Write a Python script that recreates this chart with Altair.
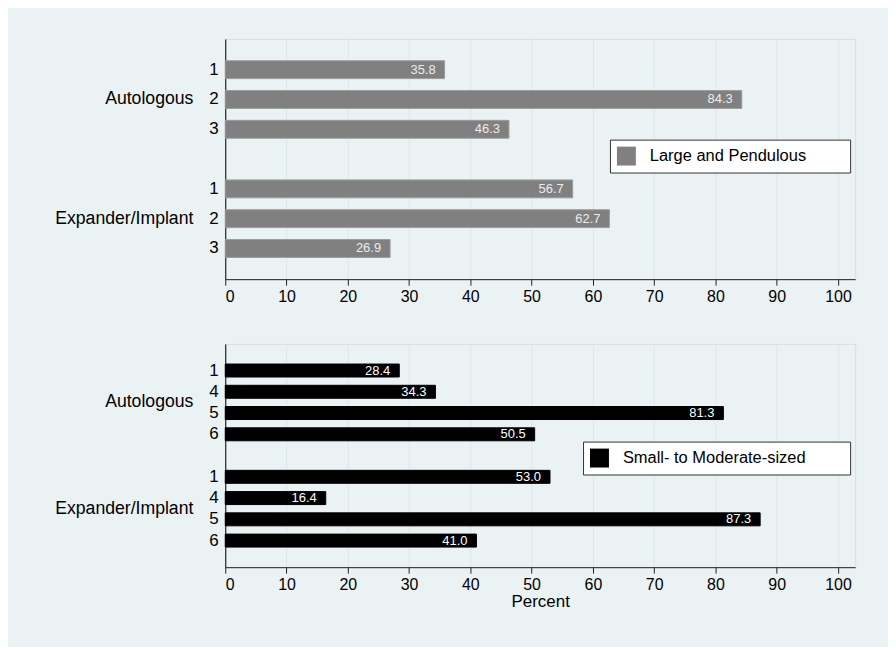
import altair as alt
import pandas as pd

# ---- data ----
top_groups = ["Autologous", "Autologous", "Autologous",
              "Expander/Implant", "Expander/Implant", "Expander/Implant"]
top_cats = ["1", "2", "3", "1", "2", "3"]
top_vals = [35.8, 84.3, 46.3, 56.7, 62.7, 26.9]
top_series = "Large and Pendulous"

bot_groups = ["Autologous"] * 4 + ["Expander/Implant"] * 4
bot_cats = ["1", "4", "5", "6", "1", "4", "5", "6"]
bot_vals = [28.4, 34.3, 81.3, 50.5, 53.0, 16.4, 87.3, 41.0]
bot_series = "Small- to Moderate-sized"

x_ticks = [0, 10, 20, 30, 40, 50, 60, 70, 80, 90, 100]

FONT = "Liberation Sans"
# trailing room inside the legend box (kept from trimming by a zero-width char)
LEGEND_PAD = "\u00a0" * 8 + "\u200b"


def build_df(groups, cats, vals, series):
    df = pd.DataFrame({"group": groups, "cat": cats, "value": vals})
    df["key"] = df["group"] + "|" + df["cat"]
    df["series"] = series
    return df


def key_domain(df):
    g = list(dict.fromkeys(df["group"]))
    dom = []
    for i, name in enumerate(g):
        if i > 0:
            dom.append("gap")
        dom += list(df.loc[df["group"] == name, "key"])
    return dom


def panel(df, height, fill, stroke, text_color, pad_inner, pad_outer,
          mid_cat, mid_dy, lx, ly, title):
    yscale = alt.Scale(domain=key_domain(df), paddingInner=pad_inner,
                       paddingOuter=pad_outer)
    y = alt.Y("key:N", scale=yscale, sort=None,
              axis=alt.Axis(title=None, ticks=False, grid=False, domain=True,
                            domainColor="#000000", domainWidth=1,
                            labelFontSize=17, labelColor="#000000",
                            labelPadding=7, labelFont=FONT,
                            labelExpr="indexof(datum.value,'|') >= 0 ? split(datum.value,'|')[1] : ''"))
    axis_kw = dict(values=x_ticks, grid=True, gridColor="#dde7ec",
                   gridWidth=1, domainColor="#222222", tickColor="#222222",
                   tickSize=6, labelFontSize=16, labelPadding=3,
                   labelColor="#000000", labelFont=FONT)
    if title:
        xaxis = alt.Axis(title=title, titleFontSize=17,
                         titleFontWeight="normal", titleColor="#000000",
                         titlePadding=1, titleFont=FONT, **axis_kw)
    else:
        xaxis = alt.Axis(title=None, **axis_kw)
    x = alt.X("value:Q", scale=alt.Scale(domain=[0, 102.8], nice=False),
              axis=xaxis)
    base = alt.Chart(df)
    bars = base.mark_bar(stroke=stroke, strokeWidth=1).encode(
        x=x, y=y,
        color=alt.Color("series:N",
                        scale=alt.Scale(domain=[df["series"].iloc[0]],
                                        range=[fill]),
                        legend=alt.Legend(
                            orient="none", legendX=lx, legendY=ly,
                            title=None, strokeColor="#333333",
                            fillColor="#ffffff", padding=7,
                            symbolType="square", symbolSize=361,
                            symbolStrokeWidth=0, labelFontSize=16.5,
                            labelOffset=14, labelColor="#000000",
                            labelFont=FONT, labelLimit=600,
                            labelExpr="datum.label + '" + LEGEND_PAD + "'")),
    )
    vals = base.mark_text(align="right", baseline="middle", dx=-9,
                          fontSize=13, font=FONT, color=text_color).encode(
        x="value:Q", y="key:N",
        text=alt.Text("value:Q", format=".1f"),
    )
    grp = base.transform_filter(alt.datum.cat == mid_cat).mark_text(
        align="right", baseline="middle", fontSize=17.7, font=FONT,
        color="#000000", dy=mid_dy).encode(
        x=alt.value(-32), y="key:N", text="group:N",
    )
    return alt.layer(bars, vals, grp).properties(width=632, height=height)


top_df = build_df(top_groups, top_cats, top_vals, top_series)
bot_df = build_df(bot_groups, bot_cats, bot_vals, bot_series)

top = panel(top_df, 241, "#808080", "#9c9c9c", "#ececec", 0.4, 0.73,
            "2", 0, 386, 101, None)
bottom = panel(bot_df, 224, "#000000", "#000000", "#ffffff", 0.39, 0.945,
               "4", 10.7, 359, 98, "Percent")

chart = alt.vconcat(top, bottom, spacing=38).resolve_scale(
    color="independent", y="independent"
).resolve_legend(color="independent").properties(
    padding={"left": 46, "top": 29, "right": 32, "bottom": 36},
    background="#eaf2f3",
).configure_view(fill="#ffffff", stroke="transparent", strokeWidth=0,
                 strokeOpacity=0).configure(font=FONT)

chart.save("out.html", embed_options={"renderer": "svg", "actions": False})
